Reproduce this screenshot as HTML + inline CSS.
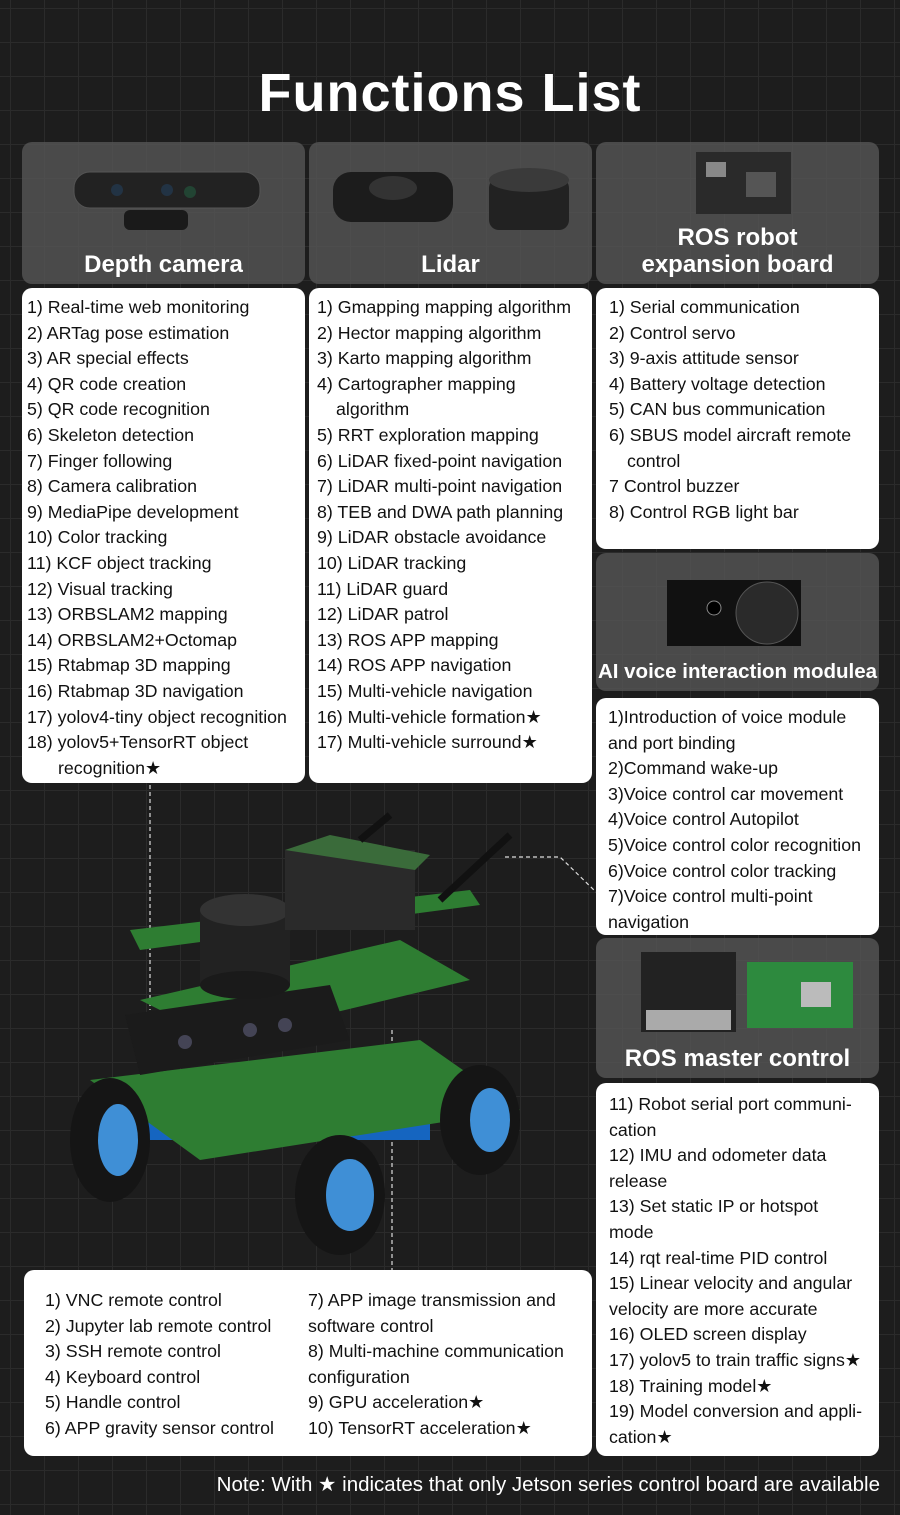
<!DOCTYPE html>
<html><head><meta charset="utf-8"><style>
*{margin:0;padding:0;box-sizing:border-box}
body{width:900px;height:1515px;overflow:hidden;background-color:#1d1d1d;
background-image:linear-gradient(#2b2b2b 1px,transparent 1px),linear-gradient(90deg,#2b2b2b 1px,transparent 1px);
background-size:34px 34px;background-position:10px 8px;font-family:"Liberation Sans",sans-serif;position:relative}
.abs{position:absolute}
h1{position:absolute;top:62px;left:0;width:900px;text-align:center;color:#fff;font-size:54px;font-weight:bold;letter-spacing:1px}
.hd{position:absolute;background:rgba(90,90,90,.75);border-radius:10px;color:#fff;font-weight:bold;font-size:24px;text-align:center}
.hd span{position:absolute;left:0;right:0;bottom:6px;line-height:27px;white-space:nowrap}
.wb{position:absolute;background:#fff;border-radius:10px;color:#111;font-size:17.8px;line-height:25.6px;padding:7px 0 0 5px;white-space:nowrap}
.in{padding-left:31px}
.wb.c3{padding-left:13px}
</style></head><body>
<h1>Functions List</h1>

<div class="hd" style="left:22px;top:142px;width:283px;height:142px">
<svg class="abs" style="left:50px;top:26px" width="190" height="70"><rect x="2" y="4" width="186" height="36" rx="16" fill="#222" stroke="#555"/><circle cx="45" cy="22" r="6" fill="#234"/><circle cx="95" cy="22" r="6" fill="#234"/><circle cx="118" cy="24" r="6" fill="#243"/><rect x="52" y="42" width="64" height="20" rx="6" fill="#1a1a1a"/></svg>
<span>Depth camera</span></div>
<div class="hd" style="left:309px;top:142px;width:283px;height:142px">
<svg class="abs" style="left:20px;top:16px" width="250" height="80"><rect x="4" y="14" width="120" height="50" rx="18" fill="#1c1c1c"/><ellipse cx="64" cy="30" rx="24" ry="12" fill="#333"/><rect x="160" y="20" width="80" height="52" rx="10" fill="#222"/><ellipse cx="200" cy="22" rx="40" ry="12" fill="#3a3a3a"/></svg>
<span>Lidar</span></div>
<div class="hd" style="left:596px;top:142px;width:283px;height:142px">
<svg class="abs" style="left:100px;top:10px" width="95" height="62"><rect width="95" height="62" fill="#2a2a2a"/><rect x="10" y="10" width="20" height="15" fill="#888"/><rect x="50" y="20" width="30" height="25" fill="#555"/></svg>
<span>ROS robot<br>expansion board</span></div>

<div class="wb" style="left:22px;top:288px;width:283px;height:495px">
1) Real-time web monitoring<br>2) ARTag pose estimation<br>3) AR special effects<br>4) QR code creation<br>5) QR code recognition<br>6) Skeleton detection<br>7) Finger following<br>8) Camera calibration<br>9) MediaPipe development<br>10) Color tracking<br>11) KCF object tracking<br>12) Visual tracking<br>13) ORBSLAM2 mapping<br>14) ORBSLAM2+Octomap<br>15) Rtabmap 3D mapping<br>16) Rtabmap 3D navigation<br>17) yolov4-tiny object recognition<br>18) yolov5+TensorRT object<br><span class="in">recognition★</span></div>
<div class="wb" style="left:309px;top:288px;width:283px;height:495px;padding-left:8px">
1) Gmapping mapping algorithm<br>2) Hector mapping algorithm<br>3) Karto mapping algorithm<br>4) Cartographer mapping<br><span style="padding-left:19px">algorithm</span><br>5) RRT exploration mapping<br>6) LiDAR fixed-point navigation<br>7) LiDAR multi-point navigation<br>8) TEB and DWA path planning<br>9) LiDAR obstacle avoidance<br>10) LiDAR tracking<br>11) LiDAR guard<br>12) LiDAR patrol<br>13) ROS APP mapping<br>14) ROS APP navigation<br>15) Multi-vehicle navigation<br>16) Multi-vehicle formation★<br>17) Multi-vehicle surround★</div>
<div class="wb c3" style="left:596px;top:288px;width:283px;height:261px">
1) Serial communication<br>2) Control servo<br>3) 9-axis attitude sensor<br>4) Battery voltage detection<br>5) CAN bus communication<br>6) SBUS model aircraft remote<br><span style="padding-left:18px">control</span><br>7 Control buzzer<br>8) Control RGB light bar</div>

<div class="hd" style="left:596px;top:553px;width:283px;height:138px">
<svg class="abs" style="left:71px;top:27px" width="134" height="66"><rect width="134" height="66" fill="#111"/><circle cx="100" cy="33" r="31" fill="#2a2a2a" stroke="#555"/><circle cx="47" cy="28" r="7" fill="#000" stroke="#888"/></svg>
<span style="font-size:20.5px">AI voice interaction modulea</span></div>
<div class="wb c3" style="left:596px;top:698px;width:283px;height:237px;padding-left:12px">
1)Introduction of voice module<br>and port binding<br>2)Command wake-up<br>3)Voice control car movement<br>4)Voice control Autopilot<br>5)Voice control color recognition<br>6)Voice control color tracking<br>7)Voice control multi-point<br>navigation</div>

<div class="hd" style="left:596px;top:938px;width:283px;height:140px">
<svg class="abs" style="left:45px;top:14px" width="215" height="80"><rect x="0" y="0" width="95" height="80" fill="#222"/><rect x="5" y="58" width="85" height="20" fill="#aaa"/><rect x="106" y="10" width="106" height="66" fill="#2d8a3e"/><rect x="160" y="30" width="30" height="25" fill="#bbb"/></svg>
<span>ROS master control</span></div>
<div class="wb c3" style="left:596px;top:1083px;width:283px;height:373px;padding-top:9px">
11) Robot serial port communi-<br>cation<br>12) IMU and odometer data<br>release<br>13) Set static IP or hotspot<br>mode<br>14) rqt real-time PID control<br>15) Linear velocity and angular<br>velocity are more accurate<br>16) OLED screen display<br>17) yolov5 to train traffic signs★<br>18) Training model★<br>19) Model conversion and appli-<br>cation★</div>

<div class="wb" style="left:24px;top:1270px;width:568px;height:186px;padding:18px 0 0 21px">
<div class="abs" style="left:21px;top:18px">1) VNC remote control<br>2) Jupyter lab remote control<br>3) SSH remote control<br>4) Keyboard control<br>5) Handle control<br>6) APP gravity sensor control</div>
<div class="abs" style="left:284px;top:18px">7) APP image transmission and<br>software control<br>8) Multi-machine communication<br>configuration<br>9) GPU acceleration★<br>10) TensorRT acceleration★</div>
</div>

<svg class="abs" style="left:0;top:780px" width="600" height="500">
<g stroke="#ddd" stroke-width="1.2" stroke-dasharray="4 3" fill="none">
<line x1="150" y1="5" x2="150" y2="230"/><line x1="392" y1="250" x2="392" y2="490"/>
<polyline points="505,77 560,77 596,112"/></g>
<rect x="100" y="300" width="330" height="60" fill="#1565c0"/>
<polygon points="90,300 420,260 520,330 200,380" fill="#2e7d32"/>
<polygon points="140,220 400,160 470,200 220,260" fill="#2e7d32"/>
<polygon points="130,150 470,110 480,125 140,170" fill="#2e7d32"/>
<ellipse cx="110" cy="360" rx="40" ry="62" fill="#151515"/><ellipse cx="118" cy="360" rx="20" ry="36" fill="#3f8fd6"/>
<ellipse cx="340" cy="415" rx="45" ry="60" fill="#151515"/><ellipse cx="350" cy="415" rx="24" ry="36" fill="#3f8fd6"/>
<ellipse cx="480" cy="340" rx="40" ry="55" fill="#151515"/><ellipse cx="490" cy="340" rx="20" ry="32" fill="#3f8fd6"/>
<polygon points="125,235 330,205 350,260 140,295" fill="#1b1b1b"/>
<circle cx="185" cy="262" r="7" fill="#445"/><circle cx="250" cy="250" r="7" fill="#445"/><circle cx="285" cy="245" r="7" fill="#445"/>
<rect x="200" y="130" width="90" height="75" fill="#222"/><ellipse cx="245" cy="130" rx="45" ry="16" fill="#333"/><ellipse cx="245" cy="205" rx="45" ry="14" fill="#1a1a1a"/>
<rect x="285" y="70" width="130" height="80" fill="#2a2a2a"/><polygon points="285,70 330,55 430,75 415,90" fill="#3a6b3a"/>
<line x1="440" y1="120" x2="510" y2="55" stroke="#111" stroke-width="7"/><line x1="360" y1="60" x2="390" y2="35" stroke="#111" stroke-width="7"/>
</svg>

<div class="abs" style="right:20px;top:1472px;color:#fff;font-size:20.5px;white-space:nowrap">Note: With ★ indicates that only Jetson series control board are available</div>
</body></html>
